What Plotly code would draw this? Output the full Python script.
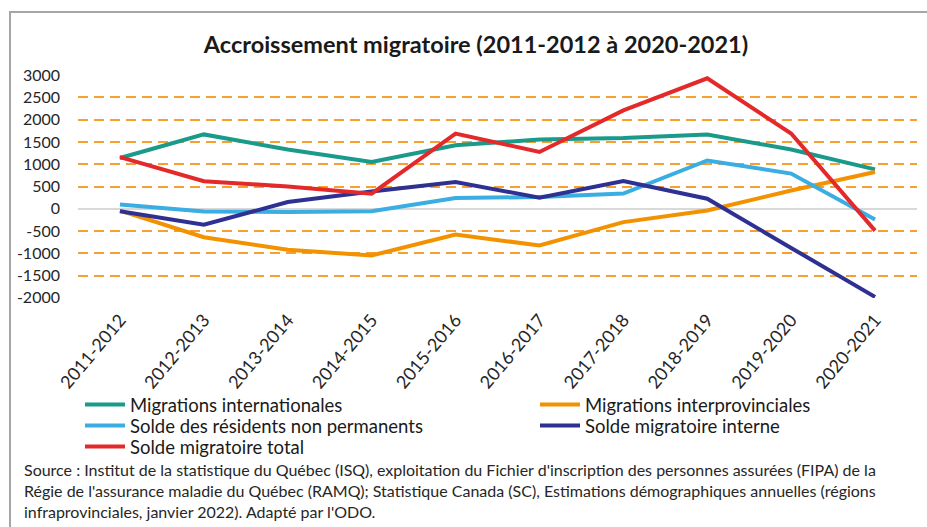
import plotly.graph_objects as go

categories = ["2011-2012", "2012-2013", "2013-2014", "2014-2015", "2015-2016",
              "2016-2017", "2017-2018", "2018-2019", "2019-2020", "2020-2021"]
intl = [1140, 1670, 1330, 1050, 1425, 1555, 1590, 1670, 1330, 885]
interprov = [-40, -640, -920, -1050, -580, -825, -300, -40, 410, 825]
non_perm = [95, -60, -75, -55, 240, 265, 340, 1085, 790, -240]
interne = [-55, -360, 150, 390, 600, 250, 620, 225, -880, -1980]
total = [1160, 620, 500, 340, 1690, 1275, 2210, 2930, 1690, -490]
y_ticks = [3000, 2500, 2000, 1500, 1000, 500, 0, -500, -1000, -1500, -2000]

series = [
    ("Migrations internationales", intl, "#199A8B"),
    ("Migrations interprovinciales", interprov, "#F39200"),
    ("Solde des résidents non permanents", non_perm, "#3AADE3"),
    ("Solde migratoire interne", interne, "#2E3191"),
    ("Solde migratoire total", total, "#E4292B"),
]
# legend placement (pixel positions of each entry: left x, centre y)
legend_pos = [(80, 405), (535, 405), (80, 426), (535, 426), (80, 447)]

FONT = "Lato"
W, H = 927, 527
L, R, T, B = 78, 10, 75, 229
pw, ph = W - L - R, H - T - B

def px_x(p):
    return (p - L) / pw

def px_y(p):
    return (H - B - p) / ph

fig = go.Figure()
legend_layouts = {}
for i, (name, vals, col) in enumerate(series):
    key = "legend" if i == 0 else f"legend{i + 1}"
    fig.add_trace(go.Scatter(x=categories, y=vals, name=name, mode="lines",
                             line=dict(color=col, width=4), legend=key))
    lx, ly = legend_pos[i]
    legend_layouts[key] = dict(
        orientation="h", xref="container", yref="container",
        x=lx / W, y=1 - ly / H, xanchor="left", yanchor="middle",
        itemwidth=40, font=dict(size=18.5, family=FONT, color="#1a1a1a"),
        bgcolor="rgba(0,0,0,0)")

fig.update_layout(
    width=W, height=H,
    margin=dict(l=L, r=R, t=T, b=B, autoexpand=False),
    paper_bgcolor="white", plot_bgcolor="white",
    font=dict(family=FONT, color="#262626"),
    title=dict(text="<b>Accroissement migratoire (2011-2012 à 2020-2021)</b>",
               x=476 / W, xanchor="center", xref="container",
               y=1 - 45 / H, yanchor="middle", yref="container",
               font=dict(size=23.5, family=FONT, color="#1a1a1a")),
    showlegend=True,
    **legend_layouts,
)

fig.update_yaxes(range=[-2005, 3005], tickvals=y_ticks,
                 ticktext=[str(v) for v in y_ticks], automargin=False,
                 showgrid=True, gridcolor="#F5A030", gridwidth=2,
                 griddash="10px,6px",
                 zeroline=True, zerolinecolor="#D9D9D9", zerolinewidth=1.5,
                 showline=False, ticks="", ticklabelstandoff=17,
                 tickfont=dict(size=16, family=FONT, color="#262626"))
fig.update_xaxes(type="category", range=[-0.5, 9.5], showgrid=False,
                 automargin=False,
                 zeroline=False, showline=False, ticks="",
                 tickangle=-50, ticklabelstandoff=7,
                 tickfont=dict(size=18, family=FONT, color="#262626"))

source = ("Source : Institut de la statistique du Québec (ISQ), exploitation du Fichier d'inscription des personnes assurées (FIPA) de la<br>"
          "Régie de l'assurance maladie du Québec (RAMQ); Statistique Canada (SC), Estimations démographiques annuelles (régions<br>"
          "infraprovinciales, janvier 2022). Adapté par l'ODO.")
fig.add_annotation(text=source, xref="paper", yref="paper",
                   x=px_x(22), y=px_y(458), xanchor="left", yanchor="top",
                   align="left", showarrow=False,
                   font=dict(size=16, family=FONT, color="#262626"))

# outer frame
fig.add_shape(type="rect", xref="paper", yref="paper",
              x0=px_x(10), x1=px_x(940), y0=px_y(540), y1=px_y(12),
              line=dict(color="#A6A6A6", width=2), fillcolor="rgba(0,0,0,0)",
              layer="below")

fig.write_html("out.html", config={"displayModeBar": False},
               post_script="document.body.style.margin='0';document.body.style.overflow='hidden';")
